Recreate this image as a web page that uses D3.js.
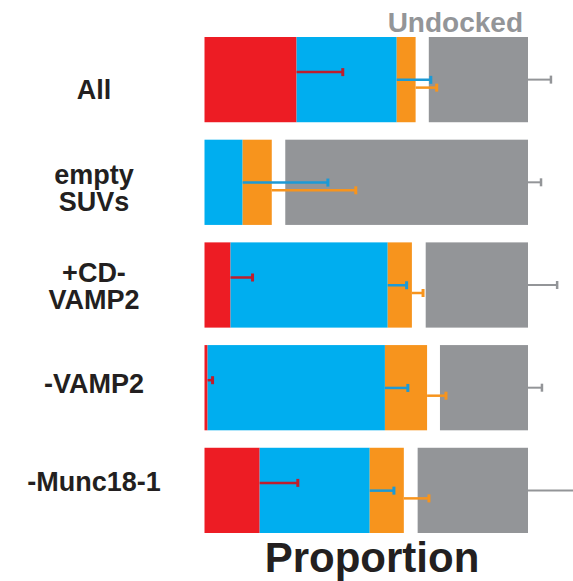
<!DOCTYPE html>
<html>
<head>
<meta charset="utf-8">
<script src="https://cdn.jsdelivr.net/npm/d3@7"></script>
<style>
  body { margin: 0; background: #fff; }
  svg { display: block; font-family: "Liberation Sans", Arial, Helvetica, sans-serif; font-weight: bold; }
</style>
</head>
<body>
<div id="chart"></div>
<script>
'use strict'

// the data
const conditions = ['All', 'empty SUVs', '+CD- VAMP2', '-VAMP2', '-Munc18-1']
const labelLines = [['All'], ['empty', 'SUVs'], ['+CD-', 'VAMP2'], ['-VAMP2'], ['-Munc18-1']]
const states = ['red', 'blue', 'orange']
const redVals = [0.297, 0, 0.084, 0.01, 0.178]
const blueVals = [0.323, 0.123, 0.507, 0.572, 0.355]
const orangeVals = [0.061, 0.094, 0.078, 0.136, 0.11]
const undockedVals = [0.32, 0.783, 0.33, 0.284, 0.356]
const redErr = [0.149, 0, 0.071, 0.016, 0.123]
const blueErr = [0.11, 0.275, 0.061, 0.074, 0.078]
const orangeErr = [0.068, 0.271, 0.036, 0.061, 0.081]
const undockedErr = [0.074, 0.042, 0.094, 0.045, 0.16]

// colours
const fill = { red: '#ed1c24', blue: '#00aeef', orange: '#f7941d', undocked: '#939598' }
const errColor = { red: '#be1e2d', blue: '#1c9ad6', orange: '#f7941d', undocked: '#939598' }

const W = 573, H = 581
const gap = 13.5

const svg = d3.select('#chart').append('svg')
    .attr('width', W)
    .attr('height', H)

const x = d3.scaleLinear().domain([0, 1]).range([204.5, 514.5])
const y = d3.scaleBand().domain(conditions).range([37, 533]).paddingInner(0.17)
// labels sit on their own, slightly tighter, spacing
const yLab = d3.scalePoint().domain(conditions).range([90, 482])
// vertical offset of each error bar inside a bar
const errOff = d3.scalePoint().domain(states).range([-7.5, 8])

const rows = conditions.map((c, i) => {
    const vals = [redVals[i], blueVals[i], orangeVals[i]]
    const errs = [redErr[i], blueErr[i], orangeErr[i]]
    let acc = 0
    const segs = states.map((s, j) => {
        const seg = { key: s, x0: acc, x1: acc + vals[j], err: errs[j] }
        acc += vals[j]
        return seg
    })
    return { cond: c, segs: segs, und: undockedVals[i], undErr: undockedErr[i] }
})

const g = svg.selectAll('g.row')
    .data(rows)
    .join('g')
    .attr('class', 'row')
    .attr('transform', d => `translate(0,${y(d.cond)})`)

const bw = y.bandwidth()

// docked segments
g.selectAll('rect.seg')
    .data(d => d.segs.filter(s => s.x1 > s.x0))
    .join('rect')
    .attr('class', 'seg')
    .attr('x', s => x(s.x0))
    .attr('width', s => x(s.x1) - x(s.x0))
    .attr('y', 0)
    .attr('height', bw)
    .attr('fill', s => fill[s.key])

// undocked bar, right aligned after the gap
g.append('rect')
    .attr('x', d => x(1 - d.und) + gap)
    .attr('width', d => x(1) - x(1 - d.und))
    .attr('y', 0)
    .attr('height', bw)
    .attr('fill', fill.undocked)

// error bars for docked segments
const eb = g.selectAll('g.err')
    .data(d => d.segs.filter(s => s.err > 0))
    .join('g')
    .attr('class', 'err')
    .attr('transform', s => `translate(0,${bw / 2 + errOff(s.key)})`)
eb.append('line')
    .attr('x1', s => x(s.x1))
    .attr('x2', s => x(s.x1 + s.err))
    .attr('stroke', s => errColor[s.key])
    .attr('stroke-width', 2.5)
eb.append('line')
    .attr('x1', s => x(s.x1 + s.err))
    .attr('x2', s => x(s.x1 + s.err))
    .attr('y1', -4)
    .attr('y2', 4)
    .attr('stroke', s => errColor[s.key])
    .attr('stroke-width', 3)

// undocked error bars
const ue = g.append('g')
    .attr('transform', `translate(0,${bw / 2})`)
ue.append('line')
    .attr('x1', x(1) + gap)
    .attr('x2', d => x(1 + d.undErr) + gap)
    .attr('stroke', errColor.undocked)
    .attr('stroke-width', 2)
ue.append('line')
    .attr('x1', d => x(1 + d.undErr) + gap)
    .attr('x2', d => x(1 + d.undErr) + gap)
    .attr('y1', -4)
    .attr('y2', 4)
    .attr('stroke', errColor.undocked)
    .attr('stroke-width', 2.5)

// category labels
svg.selectAll('text.lab')
    .data(conditions)
    .join('text')
    .attr('class', 'lab')
    .attr('x', 94)
    .attr('y', (c, i) => yLab(c) + 9 - (labelLines[i].length - 1) * 13.5)
    .attr('text-anchor', 'middle')
    .attr('font-size', 27)
    .attr('fill', '#231f20')
    .selectAll('tspan')
    .data((c, i) => labelLines[i])
    .join('tspan')
    .attr('x', 94)
    .attr('dy', (t, k) => k === 0 ? 0 : 27)
    .text(t => t)

// "Undocked" header
svg.append('text')
    .attr('x', 523)
    .attr('y', 32)
    .attr('text-anchor', 'end')
    .attr('font-size', 28)
    .attr('fill', fill.undocked)
    .text('Undocked')

// axis title
svg.append('text')
    .attr('x', 372)
    .attr('y', 572)
    .attr('text-anchor', 'middle')
    .attr('font-size', 42)
    .attr('fill', '#231f20')
    .text('Proportion')
</script>
</body>
</html>
